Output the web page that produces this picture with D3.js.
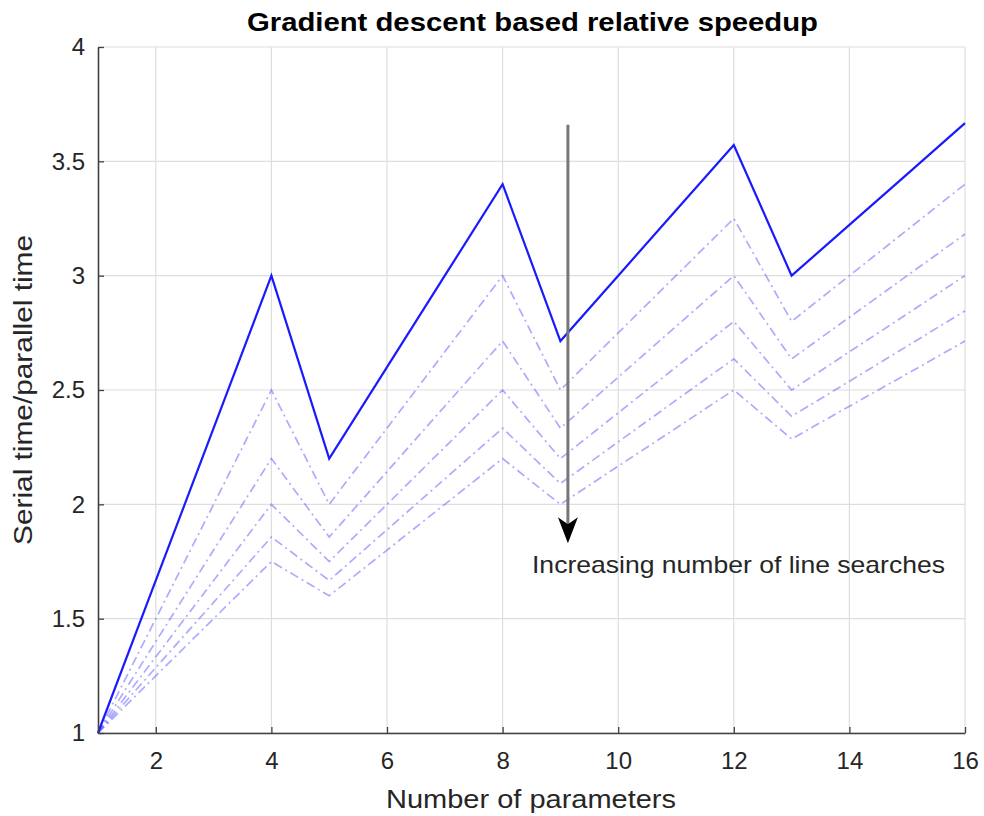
<!DOCTYPE html>
<html>
<head>
<meta charset="utf-8">
<script src="https://cdn.jsdelivr.net/npm/d3@7"></script>
<style>
  html, body { margin: 0; padding: 0; background: #fff; }
  svg { display: block; font-family: "Liberation Sans", Arial, Helvetica, sans-serif; }
</style>
</head>
<body>
<svg id="chart" width="984" height="816"></svg>
<script>
// ---- data ----
const params = [1, 2, 3, 4, 5, 6, 7, 8, 9, 10, 11, 12, 13, 14, 15, 16];
// solid line (no extra line searches)
const speedupBase = [1.000, 1.667, 2.333, 3.000, 2.200, 2.600, 3.000, 3.400, 2.714, 3.000, 3.286, 3.571, 3.000, 3.222, 3.444, 3.667];
// dash-dot lines, increasing number of line searches
const speedupLS1 = [1.000, 1.500, 2.000, 2.500, 2.000, 2.333, 2.667, 3.000, 2.500, 2.750, 3.000, 3.250, 2.800, 3.000, 3.200, 3.400];
const speedupLS2 = [1.000, 1.400, 1.800, 2.200, 1.857, 2.143, 2.429, 2.714, 2.333, 2.556, 2.778, 3.000, 2.636, 2.818, 3.000, 3.182];
const speedupLS3 = [1.000, 1.333, 1.667, 2.000, 1.750, 2.000, 2.250, 2.500, 2.200, 2.400, 2.600, 2.800, 2.500, 2.667, 2.833, 3.000];
const speedupLS4 = [1.000, 1.286, 1.571, 1.857, 1.667, 1.889, 2.111, 2.333, 2.091, 2.273, 2.455, 2.636, 2.385, 2.538, 2.692, 2.846];
const speedupLS5 = [1.000, 1.250, 1.500, 1.750, 1.600, 1.800, 2.000, 2.200, 2.000, 2.167, 2.333, 2.500, 2.286, 2.429, 2.571, 2.714];
const dashedSeries = [speedupLS1, speedupLS2, speedupLS3, speedupLS4, speedupLS5];
const xTicks = [2, 4, 6, 8, 10, 12, 14, 16];
const yTicks = [1, 1.5, 2, 2.5, 3, 3.5, 4];
const arrowX = 9.13, arrowYStart = 3.66, arrowYEnd = 1.83;
const annotationText = "Increasing number of line searches";

// ---- layout ----
const svg = d3.select("#chart");
const L = 98, R = 965, T = 47, B = 733;
const x = d3.scaleLinear().domain([1, 16]).range([L, R]);
const y = d3.scaleLinear().domain([1, 4]).range([B, T]);
const axisColor = "#262626";
const fontFam = "'Liberation Sans', Arial, sans-serif";

// grid
const grid = svg.append("g");
grid.selectAll("line.vx").data(xTicks).join("line")
  .attr("x1", d => x(d)).attr("x2", d => x(d)).attr("y1", T).attr("y2", B)
  .attr("stroke", "#dedede").attr("stroke-width", 1.2);
grid.selectAll("line.hy").data(yTicks).join("line")
  .attr("x1", L).attr("x2", R).attr("y1", d => y(d)).attr("y2", d => y(d))
  .attr("stroke", "#dedede").attr("stroke-width", 1.2);

// lines
const line = d3.line().x((d, i) => x(params[i])).y(d => y(d));
svg.append("g").selectAll("path").data(dashedSeries).join("path")
  .attr("d", d => line(d))
  .attr("fill", "none")
  .attr("stroke", "rgba(90,90,255,0.5)")
  .attr("stroke-width", 1.7)
  .attr("stroke-dasharray", "9,4,2,4");
svg.append("path").attr("d", line(speedupBase))
  .attr("fill", "none").attr("stroke", "#1a1aff").attr("stroke-width", 2.2);

// axes
const xAxis = d3.axisBottom(x).tickValues(xTicks).tickSizeInner(-6).tickSizeOuter(0).tickPadding(19);
const gx = svg.append("g").attr("transform", `translate(0,${B})`).call(xAxis);
const yAxis = d3.axisLeft(y).tickValues(yTicks).tickFormat(d3.format("~g")).tickSizeInner(-6).tickSizeOuter(0).tickPadding(13);
const gy = svg.append("g").attr("transform", `translate(${L},0)`).call(yAxis);
[gx, gy].forEach(g => {
  g.select(".domain").attr("stroke", "#404040").attr("stroke-width", 1.6);
  g.selectAll(".tick line").attr("stroke", "#404040").attr("stroke-width", 1.3);
  g.selectAll(".tick text").attr("fill", axisColor).style("font-size", "24px")
    .style("font-family", fontFam);
});
gx.selectAll(".tick text").attr("dy", "0.71em");

// arrow
const ax = x(arrowX), ay = y(arrowYEnd);
svg.append("line")
  .attr("x1", ax).attr("x2", ax)
  .attr("y1", y(arrowYStart)).attr("y2", ay - 18)
  .attr("stroke", "#777").attr("stroke-width", 3);
svg.append("path")
  .attr("d", `M${ax - 10},${ay - 26} L${ax},${ay - 19} L${ax + 10},${ay - 26} L${ax},${ay} Z`)
  .attr("fill", "#000");
svg.append("text")
  .attr("x", 532).attr("y", 573)
  .attr("fill", axisColor).style("font-size", "24px").style("font-family", fontFam)
  .attr("textLength", 413).attr("lengthAdjust", "spacingAndGlyphs")
  .text(annotationText);

// titles
svg.append("text").attr("x", 247).attr("y", 31)
  .attr("fill", "#000")
  .style("font-size", "26px").style("font-weight", "bold").style("font-family", fontFam)
  .attr("textLength", 571).attr("lengthAdjust", "spacingAndGlyphs")
  .text("Gradient descent based relative speedup");
svg.append("text").attr("x", 386).attr("y", 808)
  .attr("fill", axisColor)
  .style("font-size", "26.5px").style("font-family", fontFam)
  .attr("textLength", 290).attr("lengthAdjust", "spacingAndGlyphs")
  .text("Number of parameters");
svg.append("text")
  .attr("transform", `translate(32,${(T + B) / 2 + 155}) rotate(-90)`)
  .attr("fill", axisColor)
  .style("font-size", "26.5px").style("font-family", fontFam)
  .attr("textLength", 310).attr("lengthAdjust", "spacingAndGlyphs")
  .text("Serial time/parallel time");
</script>
</body>
</html>
